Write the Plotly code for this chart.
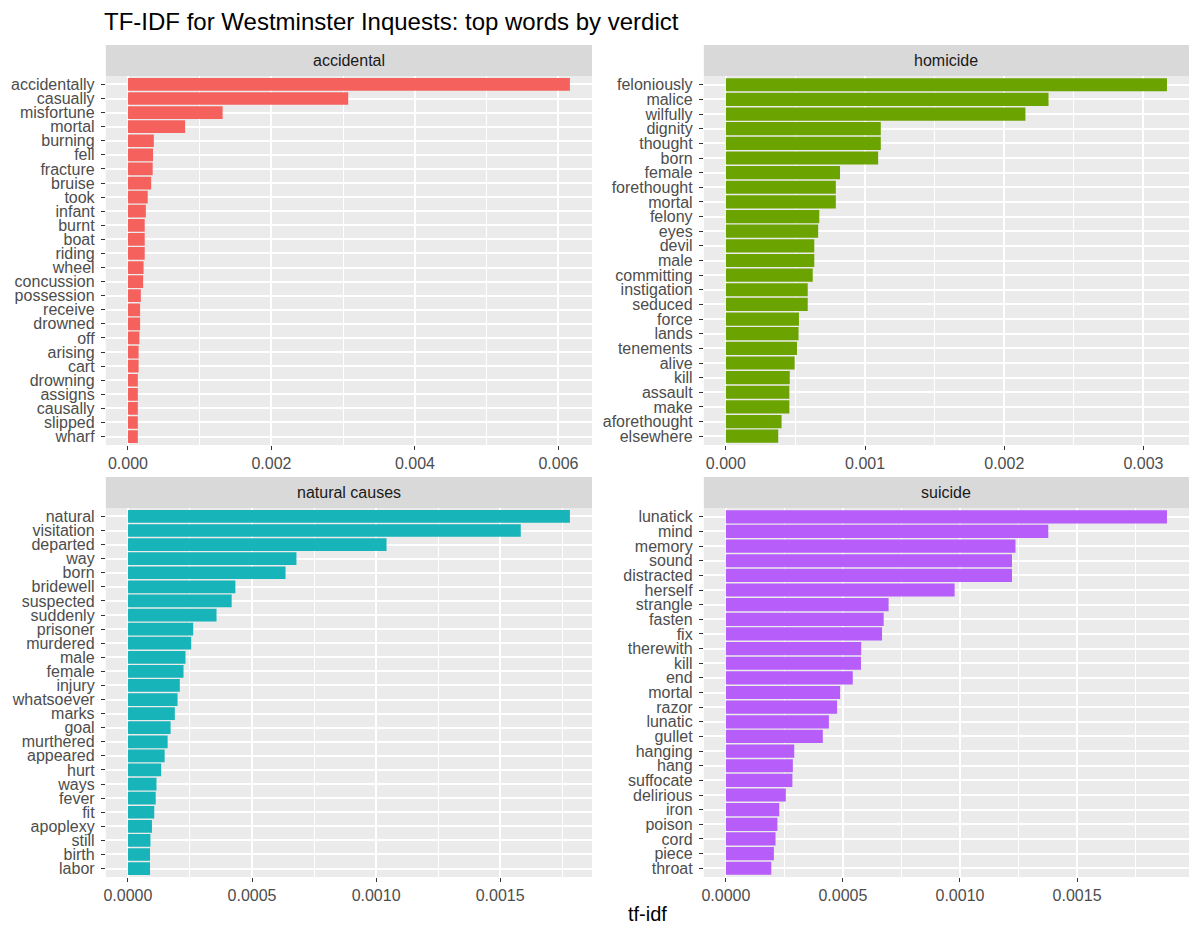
import plotly.graph_objects as go

W, H = 1200, 933

# ---------------- data ----------------
acc_words = ["accidentally", "casually", "misfortune", "mortal", "burning", "fell", "fracture",
             "bruise", "took", "infant", "burnt", "boat", "riding", "wheel", "concussion",
             "possession", "receive", "drowned", "off", "arising", "cart", "drowning",
             "assigns", "causally", "slipped", "wharf"]
acc_vals = [0.00616, 0.00307, 0.00132, 0.000797, 0.000361, 0.00035, 0.000345, 0.000324,
            0.000276, 0.00025, 0.000234, 0.000234, 0.000234, 0.000218, 0.000212, 0.00018,
            0.00017, 0.00017, 0.00016, 0.000149, 0.000149, 0.000138, 0.000138, 0.000138,
            0.000138, 0.000138]

hom_words = ["feloniously", "malice", "wilfully", "dignity", "thought", "born", "female",
             "forethought", "mortal", "felony", "eyes", "devil", "male", "committing",
             "instigation", "seduced", "force", "lands", "tenements", "alive", "kill",
             "assault", "make", "aforethought", "elsewhere"]
hom_vals = [0.003169, 0.002318, 0.002152, 0.001113, 0.001113, 0.001094, 0.00082, 0.00079,
            0.00079, 0.000671, 0.000663, 0.000635, 0.000635, 0.000624, 0.000588, 0.000588,
            0.000525, 0.000522, 0.000511, 0.000494, 0.000459, 0.000456, 0.000456, 0.0004,
            0.000376]

nat_words = ["natural", "visitation", "departed", "way", "born", "bridewell", "suspected",
             "suddenly", "prisoner", "murdered", "male", "female", "injury", "whatsoever",
             "marks", "goal", "murthered", "appeared", "hurt", "ways", "fever", "fit",
             "apoplexy", "still", "birth", "labor"]
nat_vals = [0.001781, 0.001583, 0.001042, 0.000679, 0.000635, 0.000433, 0.000418, 0.000357,
            0.000263, 0.000255, 0.000232, 0.000224, 0.000209, 0.0002, 0.000189, 0.000172,
            0.00016, 0.000148, 0.000134, 0.000115, 0.000112, 0.000106, 0.0000968, 0.0000907,
            0.0000891, 0.0000891]

sui_words = ["lunatick", "mind", "memory", "sound", "distracted", "herself", "strangle",
             "fasten", "fix", "therewith", "kill", "end", "mortal", "razor", "lunatic",
             "gullet", "hanging", "hang", "suffocate", "delirious", "iron", "poison", "cord",
             "piece", "throat"]
sui_vals = [0.001884, 0.001377, 0.001237, 0.001222, 0.001222, 0.000977, 0.000695, 0.000674,
            0.000667, 0.000578, 0.000577, 0.000542, 0.000488, 0.000475, 0.00044, 0.000414,
            0.000292, 0.000286, 0.000284, 0.000256, 0.000228, 0.00022, 0.000212, 0.000205,
            0.000194]

verdicts = ["accidental", "homicide", "natural causes", "suicide"]
x_dticks = [0.002, 0.001, 0.0005, 0.0005]
x_formats = [".3f", ".3f", ".4f", ".4f"]
colors = ["#F5625E", "#6BA401", "#17B4B9", "#B65DFA"]

words_all = [acc_words, hom_words, nat_words, sui_words]
vals_all = [acc_vals, hom_vals, nat_vals, sui_vals]

# ---------------- layout geometry (pixels) ----------------
col_x = [(104, 591), (703, 1189)]
row_y = [(76, 445), (508, 877)]      # plot area top/bottom in px
strip_h = 31

FONT = "Liberation Sans, Arial, Helvetica, sans-serif"

fig = go.Figure()
layout = {}
shapes = []
annotations = []

for i, (name, words, vals) in enumerate(zip(verdicts, words_all, vals_all)):
    r, c = divmod(i, 2)
    ax = "" if i == 0 else str(i + 1)
    x0, x1 = col_x[c]
    top, bot = row_y[r]
    xd = [x0 / W, x1 / W]
    yd = [1 - bot / H, 1 - top / H]

    fig.add_trace(go.Bar(
        x=vals, y=words, orientation="h",
        marker=dict(color=colors[i], line=dict(width=0)),
        width=0.9, showlegend=False,
        xaxis="x" + ax, yaxis="y" + ax,
        hovertemplate="%{y}: %{x}<extra>" + name + "</extra>",
    ))

    mx = max(vals)
    pad = 0.05 * mx
    n = len(words)
    layout["xaxis" + ax] = dict(
        domain=xd, anchor="y" + ax, range=[-pad, mx + pad],
        tick0=0, dtick=x_dticks[i], tickformat=x_formats[i],
        showgrid=True, gridcolor="white", gridwidth=1.5,
        minor=dict(tick0=0, dtick=x_dticks[i] / 2, showgrid=True,
                   gridcolor="white", gridwidth=0.7, ticks=""),
        zeroline=False, showline=False,
        ticks="outside", ticklen=4, tickwidth=1.1, tickcolor="#333333",
        tickfont=dict(family=FONT, size=16, color="#4D4D4D"),
    )
    layout["yaxis" + ax] = dict(
        domain=yd, anchor="x" + ax, type="category",
        categoryorder="array", categoryarray=words,
        tickmode="array", tickvals=words, ticktext=words,
        range=[n - 1 + 0.6, -0.6],
        showgrid=True, gridcolor="white", gridwidth=1.5,
        zeroline=False, showline=False,
        ticks="outside", ticklen=4, tickwidth=1.1, tickcolor="#333333",
        ticklabelstandoff=3,
        tickfont=dict(family=FONT, size=16, color="#4D4D4D"),
    )

    # facet strip
    shapes.append(dict(type="rect", xref="paper", yref="paper",
                       x0=xd[0], x1=xd[1], y0=yd[1], y1=yd[1] + strip_h / H,
                       fillcolor="#D9D9D9", line=dict(width=0), layer="below"))
    annotations.append(dict(text=name, xref="paper", yref="paper",
                            x=(xd[0] + xd[1]) / 2, y=yd[1] + strip_h / (2 * H),
                            xanchor="center", yanchor="middle", showarrow=False,
                            font=dict(family=FONT, size=16, color="#1A1A1A")))

# axis title
annotations.append(dict(text="tf-idf", xref="paper", yref="paper",
                        x=(104 + 1189) / 2 / W, y=1 - 914 / H,
                        xanchor="center", yanchor="middle", showarrow=False,
                        font=dict(family=FONT, size=20, color="black")))

fig.update_layout(
    width=W, height=H, autosize=False,
    margin=dict(l=0, r=0, t=0, b=0),
    paper_bgcolor="white", plot_bgcolor="#EBEBEB",
    bargap=0.1,
    title=dict(text="TF-IDF for Westminster Inquests: top words by verdict",
               x=104 / W, xanchor="left", y=1 - 22 / H, yanchor="middle",
               font=dict(family=FONT, size=24, color="black")),
    shapes=shapes, annotations=annotations,
    **layout,
)

fig.write_html("out.html")
